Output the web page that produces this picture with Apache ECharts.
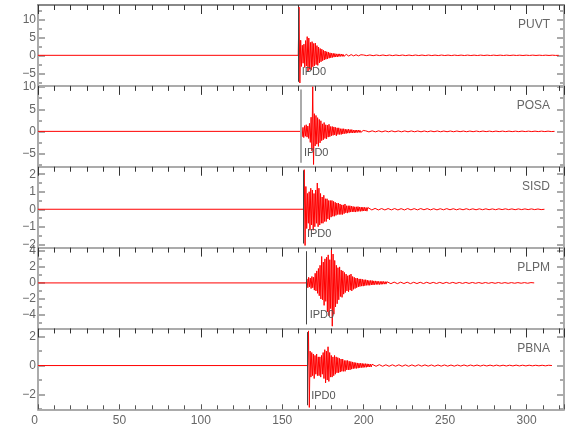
<!DOCTYPE html>
<html><head><meta charset="utf-8">
<script src="https://cdn.jsdelivr.net/npm/echarts@6/dist/echarts.min.js"></script>
<style>html,body{margin:0;padding:0;background:#fff}#c{width:580px;height:440px}</style>
</head><body><div id="c"></div>
<script>
// ---- data ----
const stations = ['PUVT', 'POSA', 'SISD', 'PLPM', 'PBNA'];
const pickLabel = 'IPD0';
const pickTimes = [159.8, 161.2, 163.0, 164.7, 165.6];
const mainStep = 0.5;   // s between samples of the strong part
const tailStep = 2;     // s between samples of the weak coda
const xTickLabels = [0, 50, 100, 150, 200, 250, 300];

const puvtMain = [0, 13.4, -7.7, 4.2, -3.1, 2.8, -2.2, 3.1, -3.4, 4.1,
 -3.0, 5.2, -4.4, 4.8, -3.9, 3.6, -4.1, 3.8, -3.2, 3.3,
 -2.9, 3.4, -2.6, 2.7, -2.8, 2.3, -2.1, 1.9, -1.8, 1.7,
 -1.5, 1.4, -1.3, 1.2, -1.1, 1.0, -1.0, 0.9, -0.8, 0.7,
 -0.7, 0.6, -0.6, 0.55, -0.5, 0.5, -0.45, 0.4, -0.45, 0.4,
 -0.35, 0.4, -0.3, 0.35, -0.3, 0.3, -0.3, 0.25, -0.3, 0.25,
 -0.2, 0.25, -0.2, 0.2, -0.25, 0.2, -0.2, 0.2, -0.15, 0.2,
 -0.15, 0.15, -0.2, 0.15, -0.15, 0.15, -0.12, 0.15, -0.12, 0.12];
const puvtTail = [0.1, -0.09, 0.1, -0.1, 0.09, -0.08, 0.09, -0.09, 0.08, -0.09,
 0.08, -0.07, 0.08, -0.08, 0.07, -0.08, 0.08, -0.07, 0.07, -0.07,
 0.07, -0.07, 0.06, -0.07, 0.07, -0.06, 0.06, -0.07, 0.06, -0.06,
 0.06, -0.06, 0.06, -0.06, 0.05, -0.06, 0.06, -0.05, 0.05, -0.06,
 0.05, -0.05, 0.05, -0.05, 0.05, -0.05, 0.05, -0.04, 0.04, -0.05,
 0.04, -0.04, 0.05, -0.04, 0.04, -0.04, 0.04, -0.04, 0.04, -0.03, 0];

const posaMain = [0, 1.0, -1.2, 0.9, -1.4, 1.3, -1.1, 1.5, -1.3, 1.2,
 -1.6, 1.8, -2.5, 3.2, -4.4, 10.1, -7.5, 4.0, -3.3, 3.6,
 -2.9, 3.1, -3.4, 2.7, -2.6, 2.4, -2.1, 1.7, -1.9, 2.0,
 -1.6, 1.5, -1.7, 1.4, -1.3, 1.6, -1.2, 1.1, -1.0, 1.1,
 -0.9, 1.0, -0.8, 0.9, -1.0, 0.8, -0.7, 0.8, -0.7, 0.6,
 -0.7, 0.6, -0.6, 0.6, -0.5, 0.5, -0.5, 0.45, -0.4, 0.5,
 -0.4, 0.4, -0.35, 0.4, -0.35, 0.3, -0.35, 0.3, -0.3, 0.3,
 -0.25, 0.3, -0.25, 0.25, -0.25, 0.2, -0.25, 0.2, -0.2, 0.2];
const posaTail = [0.13, -0.12, 0.12, -0.11, 0.12, -0.12, 0.11, -0.1, 0.11, -0.1,
 0.1, -0.1, 0.1, -0.1, 0.1, -0.09, 0.09, -0.1, 0.09, -0.09,
 0.09, -0.08, 0.09, -0.09, 0.08, -0.08, 0.08, -0.08, 0.08, -0.07,
 0.07, -0.08, 0.07, -0.07, 0.07, -0.07, 0.07, -0.06, 0.06, -0.07,
 0.06, -0.06, 0.06, -0.06, 0.06, -0.06, 0.05, -0.06, 0.06, -0.05,
 0.05, -0.05, 0.05, -0.05, 0.05, -0.05, 0.05, -0.04, 0];

const sisdMain = [0, 2.26, -2.07, 1.3, -1.1, 0.9, -0.8, 1.0, -1.2, 1.2,
 -0.9, 1.1, -1.2, 0.9, -1.0, 1.1, -0.8, 1.5, -1.0, 1.2,
 -0.9, 0.9, -0.8, 0.7, -0.8, 0.8, -0.7, 0.6, -0.7, 0.6,
 -0.55, 0.5, -0.6, 0.5, -0.45, 0.5, -0.4, 0.45, -0.4, 0.4,
 -0.35, 0.35, -0.3, 0.35, -0.3, 0.3, -0.3, 0.25, -0.3, 0.25,
 -0.25, 0.3, -0.2, 0.2, -0.22, 0.2, -0.18, 0.2, -0.16, 0.18,
 -0.15, 0.16, -0.15, 0.14, -0.16, 0.14, -0.13, 0.15, -0.12, 0.13,
 -0.12, 0.12, -0.11, 0.12, -0.1, 0.11, -0.1, 0.1, -0.11, 0.1];
const sisdTail = [0.05, -0.04, 0.05, -0.04, 0.04, -0.04, 0.04, -0.035, 0.04, -0.04,
 0.035, -0.04, 0.04, -0.035, 0.035, -0.035, 0.04, -0.03, 0.035, -0.035,
 0.03, -0.035, 0.03, -0.03, 0.035, -0.03, 0.03, -0.03, 0.025, -0.03,
 0.03, -0.025, 0.025, -0.03, 0.025, -0.025, 0.025, -0.025, 0.02, -0.025,
 0.025, -0.02, 0.025, -0.02, 0.02, -0.025, 0.02, -0.02, 0.02, -0.02,
 0.02, -0.02, 0.015, -0.02, 0];

const plpmMain = [0, 0.5, -0.6, 0.7, -0.5, 0.6, -0.7, 0.8, -0.6, 0.7,
 -0.9, 1.2, -1.0, 1.5, -1.3, 1.8, -1.6, 2.2, -2.0, 3.3,
 -2.1, 2.6, -2.8, 3.0, -2.3, 3.2, -3.6, 3.5, -4.1, 2.9,
 -3.2, 4.1, -5.4, 3.6, -3.9, 2.8, -3.0, 2.2, -2.6, 1.9,
 -2.1, 2.0, -1.7, 1.6, -1.8, 1.5, -1.4, 1.3, -1.2, 1.1,
 -1.0, 0.9, -1.1, 1.0, -0.9, 1.1, -1.0, 0.8, -0.8, 0.7,
 -0.7, 0.6, -0.6, 0.6, -0.5, 0.5, -0.45, 0.5, -0.4, 0.45,
 -0.4, 0.4, -0.35, 0.4, -0.3, 0.35, -0.3, 0.3, -0.3, 0.3,
 -0.25, 0.3, -0.25, 0.25, -0.22, 0.25, -0.2, 0.22, -0.2, 0.2,
 -0.2, 0.18, -0.18, 0.2, -0.16, 0.18, -0.15, 0.16, -0.15, 0.15];
const plpmTail = [0.1, -0.09, 0.1, -0.09, 0.09, -0.08, 0.09, -0.09, 0.08, -0.08,
 0.08, -0.08, 0.08, -0.07, 0.07, -0.07, 0.07, -0.07, 0.07, -0.06,
 0.07, -0.06, 0.06, -0.06, 0.06, -0.06, 0.06, -0.05, 0.05, -0.06,
 0.05, -0.05, 0.05, -0.05, 0.05, -0.05, 0.04, -0.05, 0.04, -0.04,
 0.04, -0.04, 0.04, -0.04, 0.04, 0];

const pbnaMain = [0, 2.4, -2.9, 1.0, -0.8, 0.9, -0.7, 0.8, -0.9, 0.7,
 -0.6, 0.8, -0.7, 0.6, -0.7, 0.6, -0.8, 0.7, -0.6, 0.9,
 -0.9, 1.1, -1.2, 1.0, -1.0, 1.3, -1.1, 0.9, -0.8, 0.7,
 -0.8, 0.6, -0.7, 0.7, -0.6, 0.6, -0.5, 0.55, -0.5, 0.5,
 -0.45, 0.45, -0.4, 0.45, -0.4, 0.35, -0.4, 0.35, -0.3, 0.35,
 -0.3, 0.3, -0.3, 0.28, -0.25, 0.25, -0.22, 0.22, -0.2, 0.2,
 -0.2, 0.18, -0.18, 0.16, -0.16, 0.16, -0.14, 0.15, -0.14, 0.13,
 -0.12, 0.13, -0.12, 0.12, -0.1, 0.11, -0.1, 0.1, -0.1, 0.09];
const pbnaTail = [0.06, -0.05, 0.06, -0.05, 0.05, -0.05, 0.05, -0.045, 0.05, -0.05,
 0.045, -0.05, 0.045, -0.045, 0.05, -0.04, 0.045, -0.04, 0.04, -0.045,
 0.04, -0.04, 0.04, -0.04, 0.035, -0.04, 0.035, -0.035, 0.04, -0.035,
 0.035, -0.03, 0.035, -0.035, 0.03, -0.03, 0.03, -0.03, 0.03, -0.03,
 0.025, -0.03, 0.025, -0.025, 0.03, -0.025, 0.025, -0.025, 0.025, -0.02,
 0.02, -0.02, 0.02, -0.02, 0.02, 0];

const yMins = [-8.5, -8.0, -2.19, -5.68, -3.03];
const yMaxs = [14.0, 10.3, 2.43, 4.41, 2.57];
const yLabelTicks = [[-5, 0, 5, 10], [-5, 0, 5, 10], [-2, -1, 0, 1, 2], [-4, -2, 0, 2, 4], [-2, 0, 2]];
const yMinorTicks = [[-7.5, -5, -2.5, 0, 2.5, 5, 7.5, 10, 12.5],
 [-7.5, -5, -2.5, 0, 2.5, 5, 7.5, 10],
 [-2, -1.5, -1, -0.5, 0, 0.5, 1, 1.5, 2],
 [-5, -4, -3, -2, -1, 0, 1, 2, 3, 4],
 [-3, -2, -1, 0, 1, 2]];

const mains = [puvtMain, posaMain, sisdMain, plpmMain, pbnaMain];
const tails = [puvtTail, posaTail, sisdTail, plpmTail, pbnaTail];

// ---- layout / style ----
const X_MAX = 323;
const GL = 38, GW = 526, TOP0 = 5, PH = 80.86;
const FONT = "'Liberation Sans Narrow','Liberation Sans',Arial,sans-serif";
const minus = v => String(v).replace('-', '\u2212');

const grids = [], xAxes = [], yAxes = [], series = [], titles = [];
stations.forEach((st, i) => {
  const top = TOP0 + i * PH;
  grids.push({ left: GL, width: GW, top: top, height: PH });
  const last = i === stations.length - 1;
  xAxes.push({
    gridIndex: i, type: 'value', min: 0, max: X_MAX, interval: 50, position: 'bottom',
    axisLine: { show: true, onZero: false, lineStyle: { color: '#ababab', width: 2 } },
    axisTick: { show: last, inside: true, length: 5, lineStyle: { color: '#555' } },
    minorTick: { show: last, splitNumber: 5, length: 4, lineStyle: { color: '#555' } },
    axisLabel: { show: last, margin: 5, showMaxLabel: false, alignMinLabel: 'right',
      color: '#666', fontSize: 12, fontFamily: FONT },
    splitLine: { show: false }, minorSplitLine: { show: false }
  });
  xAxes.push({
    gridIndex: i, type: 'value', min: 0, max: X_MAX, interval: 50, position: 'top',
    axisLine: { show: true, onZero: false, lineStyle: { color: i === 0 ? '#888' : '#ababab', width: 2 } },
    axisTick: { show: true, inside: true, length: 9, lineStyle: { color: '#333' } },
    minorTick: { show: true, splitNumber: 5, length: 5, lineStyle: { color: '#333' } },
    axisLabel: { show: false }, splitLine: { show: false }
  });
  const yBase = { gridIndex: i, type: 'value', min: yMins[i], max: yMaxs[i], splitLine: { show: false } };
  ['left', 'right'].forEach(side => {
    yAxes.push(Object.assign({}, yBase, {
      position: side,
      axisLine: { show: true, onZero: false, lineStyle: { color: '#ababab', width: 2 } },
      axisTick: { show: true, inside: true, length: 7, customValues: yLabelTicks[i],
        lineStyle: { color: '#aaa', width: 2 } },
      axisLabel: { show: side === 'left', customValues: yLabelTicks[i], margin: 2,
        formatter: minus, color: '#666', fontSize: 12, fontFamily: FONT }
    }));
    yAxes.push(Object.assign({}, yBase, {
      position: side,
      axisLine: { show: false, onZero: false },
      axisTick: { show: true, inside: true, length: 4, customValues: yMinorTicks[i],
        lineStyle: { color: '#aaa', width: 2 } },
      axisLabel: { show: false }
    }));
  });

  const t0 = pickTimes[i];
  const data = [[0, 0]];
  mains[i].forEach((v, k) => data.push([t0 + k * mainStep, v]));
  const tStart = t0 + mains[i].length * mainStep;
  tails[i].forEach((v, k) => data.push([tStart + k * tailStep, v]));

  const span = yMaxs[i] - yMins[i];
  const lo = yMins[i] + span * 0.05, hi = yMaxs[i] - span * 0.045;
  const labY = yMins[i] + span * 0.17;
  series.push({
    type: 'line', xAxisIndex: 2 * i, yAxisIndex: 4 * i, data: data,
    showSymbol: false, symbol: 'none', animation: false, silent: true,
    lineStyle: { color: '#ff0000', width: 1 },
    markLine: {
      silent: true, symbol: 'none', animation: false,
      label: { show: false },
      lineStyle: { color: i === 1 ? '#aaaaaa' : '#444', width: i === 1 ? 2 : 1, type: 'solid' },
      data: [[{ coord: [t0, lo] }, { coord: [t0, hi] }]]
    },
    markPoint: {
      silent: true, animation: false, symbol: 'rect', symbolSize: 1,
      itemStyle: { color: 'rgba(0,0,0,0)' },
      label: { show: true, position: 'right', distance: 3, formatter: pickLabel,
        color: '#555', fontSize: 11, fontFamily: FONT },
      data: [{ coord: [t0, labY] }]
    }
  });
  titles.push({ text: st, right: 30, top: top + 14, padding: 0,
    textStyle: { fontSize: 12, fontWeight: 'normal', color: '#666', fontFamily: FONT } });
});

const chart = echarts.init(document.getElementById('c'), null, { renderer: 'canvas' });
chart.setOption({
  animation: false, backgroundColor: '#fff',
  title: titles, grid: grids, xAxis: xAxes, yAxis: yAxes, series: series
});
</script></body></html>
